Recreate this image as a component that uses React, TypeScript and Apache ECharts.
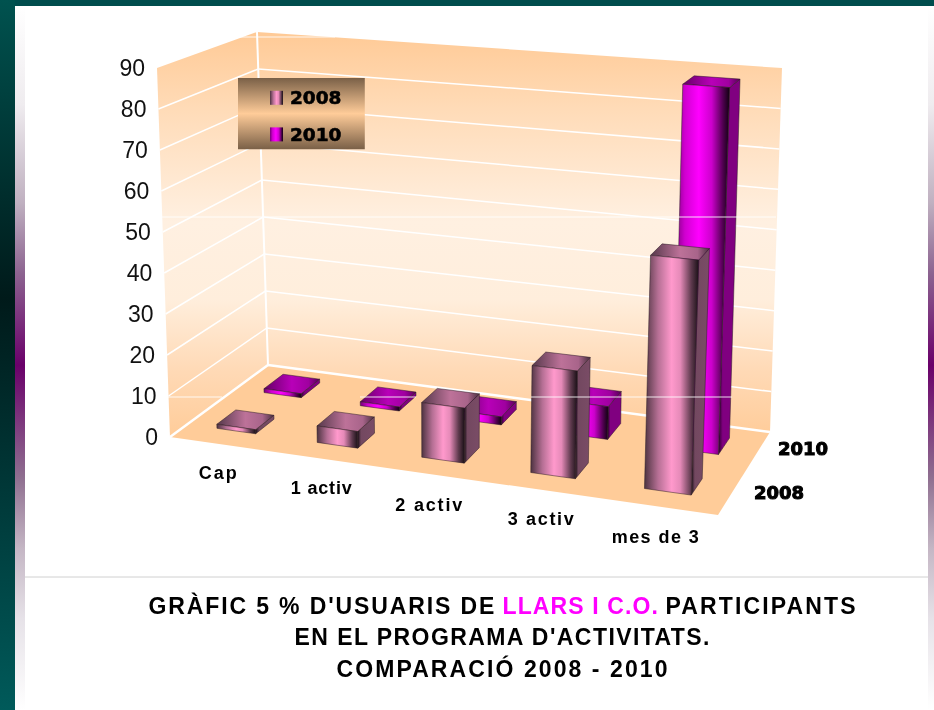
import React, { useEffect, useRef } from "react";
import * as echarts from "echarts";

const categories = ["Cap", "1 activ", "2 activ", "3 activ", "mes de 3"];
const values2008 = [1, 4, 13, 25, 53.5];
const values2010 = [1, 1, 2, 8, 88];
const seriesNames = ["2008", "2010"];
const yTicks = [0, 10, 20, 30, 40, 50, 60, 70, 80, 90];
const titleSeg1 = "GRÀFIC 5 % D'USUARIS DE ";
const titleSeg2 = "LLARS I C.O. ";
const titleSeg3 = "PARTICIPANTS";
const titleLine2 = "EN EL PROGRAMA D'ACTIVITATS.";
const titleLine3 = "COMPARACIÓ 2008 - 2010";

const W = 934, H = 710;
const GL = 163, GW = 547.5, GT = 68, GH = 369;
const xPadTop = [44, 74, 108, 136, 172];
const xPadRight = [0, 12, 16, 11, 1];
const fittedWidths: Record<string, number> = {
  [titleSeg1]: 354, [titleSeg2]: 163, [titleSeg3]: 190, [titleLine2]: 415, [titleLine3]: 331,
  "Cap": 38, "1 activ": 61, "2 activ": 67, "3 activ": 66, "mes de 3": 87,
};

type Pt = [number, number];
function quad(p: Pt[]) {
  const [x0, y0] = p[0], [x1, y1] = p[1], [x2, y2] = p[2], [x3, y3] = p[3];
  const sx = x0 - x1 + x2 - x3, sy = y0 - y1 + y2 - y3;
  const dx1 = x1 - x2, dx2 = x3 - x2, dy1 = y1 - y2, dy2 = y3 - y2;
  const den = dx1 * dy2 - dx2 * dy1;
  const g = (sx * dy2 - dx2 * sy) / den, h = (dx1 * sy - sx * dy1) / den;
  const a = x1 - x0 + g * x1, b = x3 - x0 + h * x3, d = y1 - y0 + g * y1, e = y3 - y0 + h * y3;
  return (u: number, v: number): Pt => {
    const w = g * u + h * v + 1;
    return [(a * u + b * v + x0) / w, (d * u + e * v + y0) / w];
  };
}
// floor and ceiling of the 3D box: front-left, front-right, back-right, back-left
const floorQ = quad([[170, 437], [718, 515], [770, 432], [268, 365]]);
const topQ = quad([[157, 68], [733, 110], [782, 68], [257, 32]]);
function proj(u: number, d: number, t: number): Pt {
  const a = floorQ(u, d), b = topQ(u, d);
  return [a[0] + (b[0] - a[0]) * t, a[1] + (b[1] - a[1]) * t];
}

const LG = (stops: [number, string][]) =>
  new echarts.graphic.LinearGradient(0, 0, 1, 0, stops.map(([offset, color]) => ({ offset, color })));

const skins: Record<string, any> = {
  "2008": {
    front: [[0, "#4d3340"], [0.25, "#b56f94"], [0.5, "#ff99cc"], [0.66, "#e58ab8"], [0.86, "#5f3a4e"], [1, "#1a1016"]],
    top: [[0, "#55384a"], [0.5, "#bd7299"], [0.8, "#a8648a"], [1, "#4a3040"]],
    side: [[0, "#1a1016"], [0.2, "#734860"], [1, "#7a4c66"]],
    d0: 0.165, d1: 0.355,
  },
  "2010": {
    front: [[0, "#770077"], [0.2, "#d000d0"], [0.45, "#ff00ff"], [0.68, "#cc00cc"], [0.88, "#500050"], [1, "#100010"]],
    top: [[0, "#660066"], [0.5, "#b800b8"], [0.8, "#a000a0"], [1, "#550055"]],
    side: [[0, "#300030"], [0.2, "#800080"], [1, "#800080"]],
    d0: 0.65, d1: 0.86,
  },
};

function barRenderer(name: string) {
  const skin = skins[name];
  return (_: any, api: any) => {
    const cx = api.coord([api.value(0), 0])[0];
    const y0 = api.coord([0, 0])[1], y90 = api.coord([0, 90])[1];
    const t = (y0 - api.coord([0, api.value(1)])[1]) / (y0 - y90);
    const uc = (cx - GL) / GW;
    // slight perspective warp of the band centres and widths
    const u = uc - 0.013 + 0.05 * (uc - 0.5) * (uc - 0.5);
    const hw = 0.037 + 0.005 * uc;
    const a = u - hw, b = u + hw;
    const poly = (pts: Pt[], fill: any, stroke = "#2a1a24") => ({
      type: "polygon",
      shape: { points: pts },
      style: { fill, stroke, lineWidth: 0.5 },
    });
    const { d0, d1 } = skin;
    return {
      type: "group",
      children: [
        poly([proj(b, d0, 0), proj(b, d1, 0), proj(b, d1, t), proj(b, d0, t)], LG(skin.side)),
        poly([proj(a, d0, t), proj(b, d0, t), proj(b, d1, t), proj(a, d1, t)], LG(skin.top)),
        poly([proj(a, d0, 0), proj(b, d0, 0), proj(b, d0, t), proj(a, d0, t)], LG(skin.front)),
      ],
    };
  };
}

export default function App() {
  const ref = useRef<HTMLDivElement>(null);
  useEffect(() => {
    document.body.style.margin = "0";
    const chart = echarts.init(ref.current!, undefined, { renderer: "svg" });
    const wallFill = new echarts.graphic.LinearGradient(0, 32, 0, 437, [
      { offset: 0, color: "#ffca96" },
      { offset: 0.2, color: "#ffdcb9" },
      { offset: 0.47, color: "#fff0e1" },
      { offset: 0.66, color: "#ffeedc" },
      { offset: 0.84, color: "#ffd9b5" },
      { offset: 1, color: "#ffcc99" },
    ], true);
    const stripe = (x: number, w: number) => ({
      type: "rect", z: -10, shape: { x, y: 6, width: w, height: H - 6 },
      style: {
        fill: new echarts.graphic.LinearGradient(0, 0, 0, 1, [
          { offset: 0, color: "#ffffff" }, { offset: 0.14, color: "#efecef" }, { offset: 0.28, color: "#bfb0c0" },
          { offset: 0.38, color: "#8c6390" }, { offset: 0.51, color: "#6a006a" }, { offset: 0.67, color: "#8f6f90" },
          { offset: 0.77, color: "#c4b6c4" }, { offset: 0.87, color: "#e6e2e8" }, { offset: 1, color: "#ffffff" },
        ]),
      },
    });
    const line = (p: Pt, q: Pt, lineWidth: number, color = "#ffffff", z = -5) => ({
      type: "line", z, silent: true,
      shape: { x1: p[0], y1: p[1], x2: q[0], y2: q[1] },
      style: { stroke: color, lineWidth },
    });
    const wallLines = yTicks.filter((v) => v > 0 && v < 90).flatMap((v) => {
      const t = v / 90;
      return [line(proj(0, 0, t), proj(0, 1, t), 1.5), line(proj(0, 1, t), proj(1, 1, t), 1.5)];
    });
    const depthText = (x: number, y: number, text: string) => ({
      type: "text", x, y, z: 5,
      style: {
        text, fill: "#000", font: "bold 18px 'DejaVu Sans'", stroke: "#000", lineWidth: 1,
        textAlign: "center", textVerticalAlign: "middle",
      },
    });
    const polygon = (pts: Pt[], fill: any) => ({ type: "polygon", z: -6, shape: { points: pts }, style: { fill } });
    const titleStyle = (color: string, width: number) => ({
      fontFamily: "Liberation Sans", fontWeight: "bold", fontSize: 23, color, lineHeight: 31.5, width,
    });
    chart.setOption({
      animation: false,
      grid: { left: GL, top: GT, width: GW, height: GH },
      xAxis: {
        type: "category", data: categories,
        axisLine: { show: false }, axisTick: { show: false },
        axisLabel: {
          interval: 0, margin: 4,
          formatter: (v: string, i: number) => `{c${i}|${v}}`,
          rich: Object.fromEntries(categories.map((_, i) => [`c${i}`, {
            fontFamily: "Liberation Sans", fontWeight: "bold", fontSize: 18, color: "#000", lineHeight: 20,
            padding: [xPadTop[i], xPadRight[i], 0, 0],
          }])),
        },
      },
      yAxis: {
        type: "value", min: 0, max: 90, interval: 10,
        axisLine: { show: false }, axisTick: { show: false }, splitLine: { show: false },
        axisLabel: {
          margin: 2,
          formatter: (v: number) => `{v${v}|${v}}`,
          rich: Object.fromEntries(yTicks.map((v) => [`v${v}`, {
            fontFamily: "Liberation Sans", fontSize: 23, color: "#111",
            padding: [0, Math.max(0, 3 + ((v / 90) * 13)), 0, 0],
          }])),
        },
      },
      legend: {
        data: seriesNames, left: 238, top: 78, orient: "vertical", selectedMode: false,
        itemWidth: 13, itemHeight: 14, itemGap: 17,
        padding: [10, 23, 5, 32],
        icon: "rect",
        backgroundColor: new echarts.graphic.LinearGradient(0, 0, 0, 1, [
          { offset: 0, color: "#7a6047" }, { offset: 0.5, color: "#ffcc99" }, { offset: 1, color: "#7a6047" },
        ]),
        textStyle: { fontFamily: "DejaVu Sans", fontWeight: "bold", fontSize: 18.5, color: "#000", textBorderColor: "#000", textBorderWidth: 0.6, padding: [0, 0, 0, 2] },
      },
      title: {
        text: [`{a|${titleSeg1}}{m|${titleSeg2}}{c|${titleSeg3}}`, `{l2|${titleLine2}}`, `{l3|${titleLine3}}`].join("\n"),
        left: 497, top: 585, textAlign: "center",
        textStyle: {
          rich: {
            a: titleStyle("#000", 354),
            m: titleStyle("#ff00ff", 163),
            c: titleStyle("#000", 190),
            l2: titleStyle("#000", 415),
            l3: titleStyle("#000", 331),
          },
        },
      },
      series: [
        {
          type: "custom", name: "2008", z: 4, clip: false, encode: { x: 0, y: 1 },
          data: values2008.map((v, i) => [i, v]), renderItem: barRenderer("2008"),
          itemStyle: { color: LG(skins["2008"].front) },
        },
        {
          type: "custom", name: "2010", z: 3, clip: false, encode: { x: 0, y: 1 },
          data: values2010.map((v, i) => [i, v]), renderItem: barRenderer("2010"),
          itemStyle: { color: LG(skins["2010"].front) },
        },
      ],
      graphic: [
        { type: "rect", z: -20, shape: { x: 0, y: 0, width: W, height: H }, style: { fill: "#ffffff" } },
        { type: "rect", z: -9, shape: { x: 0, y: 0, width: W, height: 6 }, style: { fill: "#004d4d" } },
        {
          type: "rect", z: -9, shape: { x: 0, y: 0, width: 15, height: H },
          style: {
            fill: new echarts.graphic.LinearGradient(0, 0, 0, 1, [
              { offset: 0, color: "#00524f" }, { offset: 0.42, color: "#001a1a" }, { offset: 1, color: "#005a5a" },
            ]),
          },
        },
        stripe(15, 10),
        stripe(928, 6),
        line([25, 577], [928, 577], 1, "#d0d0d0", -8),
        polygon([proj(0, 0, 0), proj(0, 1, 0), proj(1, 1, 0), proj(1, 0, 0)], "#ffcc99"),
        polygon([proj(0, 0, 0), proj(0, 1, 0), proj(0, 1, 1), proj(0, 0, 1)], wallFill),
        polygon([proj(0, 1, 0), proj(1, 1, 0), proj(1, 1, 1), proj(0, 1, 1)], wallFill),
        ...wallLines,
        line(proj(0, 1, 0), proj(0, 1, 1), 2),
        line(proj(0, 0, 0), proj(0, 1, 0), 2.5),
        line(proj(0, 1, 0), proj(1, 1, 0), 2.5),
        depthText(803, 448, "2010"),
        depthText(779, 492, "2008"),
        line([161, 217], [776, 217], 1, "rgba(255,255,255,0.85)", 50),
        line([240, 37], [335, 37], 1, "rgba(255,255,255,0.85)", 50),
        line([168, 397], [222, 397], 1, "rgba(255,255,255,0.85)", 50),
        line([360, 397], [416, 397], 1, "rgba(255,255,255,0.85)", 50),
        line([531, 397], [732, 397], 1, "rgba(255,255,255,0.85)", 50),
      ],
    });
    ref.current!.querySelectorAll("text").forEach((el) => {
      const width = fittedWidths[el.textContent || ""];
      if (width) el.setAttribute("textLength", String(width));
    });
    return () => chart.dispose();
  }, []);
  return <div ref={ref} style={{ position: "fixed", left: 0, top: 0, width: W, height: H }} />;
}
